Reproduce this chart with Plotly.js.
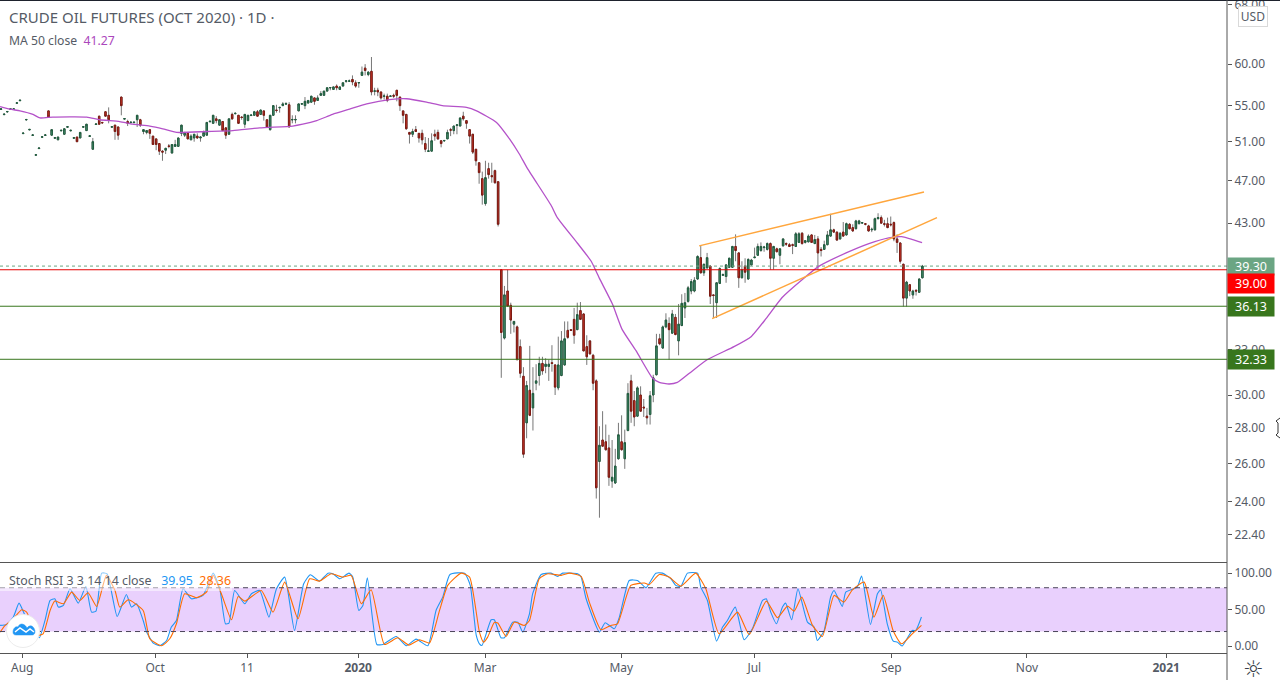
<!DOCTYPE html>
<html>
<head>
<meta charset="utf-8">
<script src="https://cdn.plot.ly/plotly-3.0.1.min.js"></script>
<style>
  html, body { margin: 0; padding: 0; background: #fff; overflow: hidden; }
  #chart { width: 1280px; height: 680px; }
</style>
</head>
<body>
<div id="chart"></div>
<script>
// daily bars, one row = 10 bars
var opens = [
  54.57,53.97,54.27,54.57,54.57,55.27,55.57,51.87,53.37,52.27,
  51.67,49.57,50.27,51.47,51.67,54.4,51.7,51.37,51.2,52.17,
  51.8,52.57,52.17,51.37,51.5,51.4,52.57,52.2,51.57,50.2,
  52.87,53.8,53.1,54.3,53.9,52.57,52.8,52.6,56.0,53.47,
  53.2,53.07,53.07,53.4,53.4,52.1,52.0,52.3,51.6,51.3,
  50.8,50.0,50.1,50.55,49.8,50.5,50.5,51.9,51.7,51.9,
  51.2,51.4,51.6,51.4,51.6,51.7,53.17,53.0,53.5,52.8,
  53.2,52.5,51.8,54.0,54.07,53.9,53.7,52.9,53.3,53.87,
  53.9,54.3,54.0,54.4,53.4,52.3,53.9,54.5,54.75,55.0,
  55.17,55.1,53.37,53.37,54.4,55.17,55.0,55.3,55.4,55.9,
  55.6,56.2,56.2,56.7,57.07,56.9,57.3,56.9,57.3,57.87,
  57.87,58.1,57.7,57.67,58.6,59.5,58.7,59.1,56.67,56.8,
  56.6,56.07,56.1,56.07,56.2,56.8,56.0,54.4,54.0,52.0,
  51.8,52.3,51.9,51.9,50.8,49.97,50.0,51.8,52.0,51.1,
  51.07,51.3,52.3,52.2,52.77,52.7,53.8,53.3,52.3,51.8,
  50.2,48.8,47.2,44.8,48.2,47.5,48.0,46.9,39.0,33.8,
  37.3,36.2,34.8,34.6,33.2,31.2,28.3,30.3,29.2,30.75,
  31.25,32.05,31.85,31.85,32.1,31.95,30.45,31.25,31.95,34.35,
  34.4,35.15,34.4,35.8,35.55,33.2,33.6,32.6,30.9,26.1,
  27.3,27.2,26.85,25.05,24.95,26.25,27.2,26.25,27.85,30.9,
  29.65,28.7,30.0,29.25,28.7,28.8,30.0,31.3,33.75,33.1,
  34.6,34.85,34.15,35.3,33.6,34.7,36.0,36.5,37.3,37.3,
  38.25,40.0,38.75,39.15,39.3,37.0,36.4,37.9,38.55,38.45,
  39.2,39.2,40.95,40.4,38.35,39.3,38.25,39.4,40.0,40.2,
  40.6,40.85,40.7,41.2,39.95,40.75,40.2,41.0,41.2,41.1,
  41.1,40.95,41.3,42.1,41.3,41.35,41.95,41.2,41.6,40.7,
  40.7,41.1,41.85,42.4,42.2,41.6,42.2,41.95,42.9,42.6,
  42.5,42.95,43.0,42.95,42.75,42.4,42.4,43.4,43.5,42.95,
  42.95,42.9,43.05,41.6,41.25,39.45,36.75,37.8,37.0,37.35,37.2,38.35
];
var highs = [
  54.63,54.03,54.33,54.63,54.63,55.33,55.63,51.93,53.43,52.33,
  51.73,49.63,50.33,51.53,51.73,54.4,52.3,51.43,51.5,52.23,
  52.4,52.63,52.23,51.43,51.5,52.0,52.63,52.9,51.63,51.4,
  52.93,53.8,53.1,54.3,54.8,52.63,52.8,52.6,56.0,53.53,
  53.4,53.13,53.13,53.9,53.5,52.3,52.2,52.3,51.6,51.3,
  50.8,50.1,50.3,50.75,50.7,51.2,51.4,52.8,52.0,51.9,
  51.8,51.8,51.9,51.5,52.2,53.1,53.23,53.9,53.8,53.4,
  53.2,52.5,53.5,54.2,54.13,53.9,53.8,54.0,53.9,53.93,
  54.4,54.5,54.5,54.4,53.4,53.9,55.0,55.1,54.8,55.4,
  55.4,55.4,53.9,53.9,55.2,55.23,56.0,55.6,56.1,55.9,
  56.2,56.7,56.7,57.1,57.13,57.2,57.5,57.2,57.7,57.93,
  58.1,58.6,58.0,57.73,59.7,60.0,59.1,60.9,57.1,57.1,
  56.6,56.4,56.4,56.13,56.4,56.8,56.0,54.4,54.0,52.0,
  52.4,52.7,51.9,52.3,51.5,51.4,51.9,52.3,52.3,51.1,
  51.13,52.3,52.5,52.7,52.83,53.6,54.3,53.3,52.3,51.8,
  50.2,48.8,47.9,49.0,48.8,48.8,48.1,46.9,39.05,37.7,
  39.0,36.4,35.0,34.7,33.7,31.8,30.9,33.25,31.8,32.0,
  32.5,32.5,32.4,32.3,33.3,32.0,33.9,34.3,35.0,35.0,
  34.4,36.0,36.4,36.45,35.6,34.0,33.65,32.7,31.0,28.1,
  29.0,28.2,27.6,27.3,26.8,28.3,28.75,27.9,30.75,31.3,
  30.25,30.55,30.55,29.75,29.2,30.25,31.3,34.1,34.1,34.7,
  35.6,35.3,35.85,35.55,36.3,37.05,37.15,37.7,38.25,38.4,
  40.2,41.05,39.5,40.4,39.35,37.05,38.0,39.2,38.7,39.45,
  40.0,41.0,42.0,40.45,39.7,39.95,39.95,39.9,40.85,41.2,
  41.3,41.0,41.3,41.3,41.0,40.85,40.8,41.65,41.3,41.25,
  41.2,42.2,42.2,42.2,41.5,42.0,42.0,41.95,41.85,40.9,
  41.45,42.3,43.85,42.5,42.25,42.2,43.1,43.05,43.0,42.9,
  43.3,43.3,43.1,43.0,42.85,42.6,43.5,43.9,43.7,43.3,
  43.5,43.6,43.15,42.0,41.3,39.5,38.1,37.85,37.4,37.45,38.3,39.4
];
var lows = [
  54.57,53.97,54.27,54.57,54.57,55.27,55.57,51.87,53.37,52.27,
  51.67,49.57,50.27,51.47,51.67,53.7,51.7,51.37,51.2,52.17,
  51.8,52.57,52.17,51.37,51.0,51.4,52.57,52.2,51.57,50.2,
  52.87,52.9,53.05,53.8,53.0,52.57,51.2,51.2,53.9,53.47,
  52.7,53.07,53.07,52.6,52.6,51.8,51.8,51.3,50.7,50.1,
  49.6,49.0,49.7,50.3,49.8,50.5,50.5,51.6,51.5,51.3,
  51.2,51.0,51.3,51.0,51.6,51.7,53.17,53.0,53.0,52.8,
  52.2,51.3,51.8,53.4,54.07,53.0,53.4,52.5,53.3,53.87,
  53.9,53.8,54.0,53.3,52.6,52.2,53.9,54.2,54.2,55.0,
  55.17,52.6,53.0,53.0,54.4,55.17,54.6,55.3,55.4,55.1,
  55.6,56.2,56.2,56.7,56.8,56.9,56.8,56.9,57.3,57.7,
  57.87,57.4,57.1,57.1,58.6,58.6,58.5,56.2,56.2,56.1,
  55.7,55.7,55.4,56.07,55.9,55.5,54.4,53.0,52.3,50.8,
  51.5,52.1,50.9,50.7,49.9,49.97,50.0,51.1,51.2,50.4,
  51.07,51.3,51.6,51.8,51.8,52.7,53.3,52.4,50.8,49.7,
  48.5,46.7,44.7,44.6,47.2,46.8,46.7,42.7,31.1,33.7,
  36.1,34.1,34.2,32.3,31.1,26.3,27.4,28.7,27.85,30.3,
  30.6,31.3,31.4,30.9,31.5,30.0,30.3,31.2,31.9,33.75,
  34.3,33.4,34.4,35.1,32.9,31.95,32.65,30.3,24.15,23.2,
  26.9,26.7,24.8,24.7,24.9,26.2,26.7,25.7,27.8,28.3,
  28.1,28.65,28.95,28.65,28.2,28.2,29.55,31.25,33.3,33.05,
  34.5,32.3,34.1,34.0,32.6,34.65,35.25,36.4,37.05,37.2,
  38.2,38.7,38.5,39.1,36.3,35.25,35.25,37.85,38.5,37.95,
  39.15,39.15,39.7,37.55,38.3,37.95,38.2,39.35,39.95,40.15,
  40.5,40.5,40.6,39.0,39.0,40.45,39.45,40.95,41.0,40.9,
  40.3,40.9,41.25,41.1,41.2,41.3,41.25,41.15,39.0,40.1,
  40.65,41.05,41.8,42.15,41.45,41.55,41.8,41.9,42.45,42.25,
  42.45,42.9,42.95,42.8,42.25,42.2,42.35,43.35,42.95,42.7,
  42.55,42.7,41.4,40.4,39.5,36.1,36.1,36.9,36.7,36.95,37.15,38.3
];
var closes = [
  54.63,54.03,54.33,54.63,54.63,55.33,55.63,51.93,53.43,52.33,
  51.73,49.63,50.33,51.53,51.73,53.7,52.3,51.43,51.5,52.23,
  52.4,52.63,52.23,51.43,51.0,52.0,52.63,52.9,51.63,51.0,
  52.93,52.9,53.05,53.8,53.4,52.63,52.1,51.7,55.0,53.53,
  53.0,53.13,53.13,53.9,52.8,52.3,52.2,51.9,50.7,50.7,
  50.0,49.9,50.3,50.5,50.7,50.7,51.4,52.8,52.0,51.3,
  51.6,51.8,51.4,51.5,52.0,53.1,53.23,53.9,53.3,53.4,
  52.2,51.7,53.5,53.5,54.13,53.0,53.65,54.0,53.9,53.93,
  54.3,53.8,54.5,53.9,52.6,53.9,55.0,54.45,54.8,55.2,
  55.23,52.6,53.43,53.43,55.2,55.23,55.5,55.6,56.1,55.5,
  55.9,56.4,56.7,57.1,57.13,57.2,57.1,57.2,57.7,57.93,
  57.93,57.8,57.3,57.73,59.0,59.2,59.0,56.6,56.73,56.6,
  55.9,56.13,55.6,56.13,56.1,56.2,55.0,53.9,52.4,51.8,
  52.1,52.1,51.4,51.2,50.2,50.03,51.1,51.6,51.3,50.8,
  51.13,52.0,52.25,52.7,52.83,53.6,53.5,53.0,51.6,49.9,
  49.0,47.8,45.6,47.3,47.6,47.4,46.8,42.9,34.2,37.0,
  36.15,35.1,35.0,32.3,31.4,26.5,30.6,28.75,30.1,30.9,
  32.05,31.55,32.0,32.0,32.05,30.5,31.95,33.6,33.75,33.85,
  34.35,34.0,35.5,35.15,32.9,32.5,32.7,30.75,24.7,27.0,
  26.95,26.75,25.25,25.25,25.85,27.6,26.75,27.15,30.1,29.0,
  28.65,30.45,29.0,29.2,28.6,29.95,31.1,33.25,33.4,34.6,
  35.1,34.4,35.55,34.05,34.8,36.35,36.4,37.55,38.05,38.15,
  40.1,38.75,39.45,40.0,36.9,36.95,37.95,39.1,38.6,39.4,
  39.95,40.95,40.6,38.35,39.0,38.8,39.85,39.8,40.05,40.95,
  40.95,40.9,41.2,39.95,40.95,40.5,40.75,41.6,41.15,40.95,
  41.05,42.05,42.05,41.2,41.45,41.85,41.3,41.55,40.4,40.6,
  41.1,41.95,42.4,42.2,41.5,42.1,41.85,42.95,42.5,42.3,
  43.2,43.2,43.05,42.9,42.3,42.45,43.4,43.5,43.0,42.9,
  42.6,42.85,41.6,41.3,39.7,36.75,38.0,37.3,37.3,37.3,38.25,39.3
];

// MA 50, read at its bends
var maBars = [-0.3,2.8,6.0,10.1,12.3,16.4,27.1,31.2,37.5,41.6,47.0,51.1,55.5,65.0,73.2,81.7,92.1,95.3,99.7,104.7,110.1,115.5,122.7,128.1,134.4,139.4,147,150.2,156.5,160.6,163.7,166.2,173.8,175.7,182,186.4,189,193.1,196.2,200.6,205.7,207.9,211,213.6,217.4,223,231.5,236.9,241.6,246.7,253,258.4,266.9,274.1,280.4,284.5,290.9];
var maValues = [54.9,54.6,54.4,54.0,53.6,53.7,53.7,53.4,53.2,52.9,52.7,52.4,52.0,52.1,52.2,52.5,52.7,52.9,53.3,54.0,54.6,55.2,55.7,55.8,55.4,55.0,54.8,54.4,53.1,51.3,49.7,48.25,44.6,43.5,41.25,39.7,38.3,36.3,34.4,32.9,31.1,30.8,30.7,30.8,31.4,32.3,33.2,33.9,35.2,36.8,38.2,39.3,40.4,41.2,41.7,41.8,41.27];

// stochastic RSI, read at its turning points
var kBars = [-0.3,1.8,3.9,5.7,7.6,10.2,12.1,13.9,15.5,17.0,18.1,19.7,21.8,24.4,26.8,28.6,30.0,31.8,33.5,36.7,39.6,41.2,42.8,44.9,46.0,48.1,50.2,52.3,53.8,55.4,57.5,60.1,63.8,67.0,69.1,70.9,72.0,73.8,77.0,79.1,81.7,84.6,87.0,89.6,92.7,95.6,97.7,100.6,103.3,104.8,107.0,109.9,111.1,113.0,114.3,115.7,118.7,120.6,124.8,128.0,131.1,134.8,137.4,139.5,141.8,146.4,148.2,150.1,151.1,151.9,154.8,155.8,157.9,159.0,161.6,163.2,164.8,166.9,167.9,170.6,173.7,175.8,177.4,182.1,183.2,184.8,189.0,190.8,193.7,195.3,198.4,201.0,203.7,206.8,208.9,211.6,213.1,214.7,216.8,220.0,221.0,223.1,226.0,227.9,229.4,231.9,234.7,237.3,240.5,241.7,243.1,244.9,246.8,247.8,249.7,251.7,254.7,256.8,257.8,259.9,262.0,263.1,265.7,266.8,270.4,271.8,274.6,276.8,277.8,279.9,281.8,283.1,284.6,287.8,288.9,290.7];
var kValues = [28.4,29.7,39.8,58.9,42.1,23.8,11.5,35.2,62.6,64.9,53.5,55.8,78.6,58.9,81.8,46.6,48.0,100,99.1,40.7,70.8,53.5,58.0,35.2,19.2,4.2,0.5,7.8,26.1,35.2,78.6,64.9,69.5,100,78.6,30.6,31.6,76.3,58,71.7,76.3,39.8,78.6,94.6,21.5,85.4,97.8,89.1,100,99.1,92.3,100,94.6,48.9,55.8,93.7,2.3,2.3,13.3,0.5,9.6,0.5,48.9,67.2,98.2,100,83.2,14.7,3.2,1.0,36.1,36.1,11.5,11.5,32.9,32.9,19.2,44.3,71.7,98.2,100,95.5,100,99.1,94.6,64.9,19.2,32.0,23.8,39.8,90,90,80,100,100,92.3,83.2,81.8,100,100,80.9,62.6,6.9,26.1,35.2,53.5,8.7,23.8,62.6,64.9,46.6,30.6,53.5,58.9,36.1,78.6,32.9,26.1,7.8,20.6,67.2,76.3,54.4,74.0,80.9,95.9,29.7,71.7,77.2,30.6,6.9,5.5,0.1,21.5,21.5,39.95];
var dBars = [-0.3,1.3,3.9,6.5,8.1,11.2,13.3,15.5,17.0,19.7,22.3,24.9,27.5,30.2,33.3,36.0,37.5,40.2,44.9,47.0,50.7,53.3,55.4,58.0,61.7,64.9,67,69.6,72.8,74.9,77,82.2,85.9,89.6,93.8,97.5,100.6,104.3,108,110.6,113.8,116.9,121.1,125.3,128.8,132.2,135.3,138.5,141.1,145.3,148,151.1,152.4,153.7,155.8,156.9,159.5,162.1,165.3,166.9,170,172.7,176.9,179.5,183.2,185.8,189.5,192.6,194.7,198.9,203.2,204.7,207.9,211,214.7,219.4,222.6,226.8,232.6,236.3,241.7,245.2,248.4,250.5,252.9,256.3,259.4,263.1,266.2,268.9,272.6,275.7,278.6,281.8,284.4,287.8,290.7];
var dValues = [19.2,28.4,37.5,49.8,46.6,14.7,16.9,48.9,61.7,58,74,62.6,73.1,54.4,96.9,76.3,53.5,63.5,48.9,10.1,0.5,10.1,30.6,71.7,66.3,74,96.9,71.7,36.1,68.1,61.7,76.3,46.6,87.7,37.5,92.3,89.1,99.1,94.6,96.9,58,77.2,2.3,11.5,1.4,8.7,4.2,48.9,83.2,100,94.6,19.2,5.5,12.4,32.5,31.6,13.3,32.9,28.4,35.2,92.3,99.1,96.9,100,95.5,60.3,22.4,28.4,30.6,83.2,86.4,84.1,98.2,94.6,82.2,100,78.6,16.9,46.6,16,61.7,38.9,54.8,48,67.2,28.4,13.3,69.5,60.3,77.2,87.7,39.8,69.5,20.6,3.2,16.9,28.36];

// the two drawn channel lines
var upperBars = [220.5,291.5];
var upperValues = [41.0,45.9];
var lowerBars = [224.6,295.6];
var lowerValues = [35.2,43.5];

var priceTicks = [22.4,24,26,28,30,33,43,47,51,55,60,68];
var priceTickText = ['22.40','24.00','26.00','28.00','30.00','33.00','43.00','47.00','51.00','55.00','60.00','68.00'];
var stochTicks = [0,50,100];
var stochTickText = ['0.00','50.00','100.00'];
var timeTicks = [6.7,48.7,77.7,112.8,152.9,195.9,237.9,281.2,324,368];
var timeTickText = ['Aug','Oct','11','<b>2020</b>','Mar','May','Jul','Sep','Nov','<b>2021</b>'];

var lastPrice = 39.30;
var redLevel = 39.00;
var greenLevels = [36.13,32.33];
var stochUpper = 80;
var stochLower = 20;

var xMin = -0.316;
var xMax = 387.2;
var FONT = '"Noto Sans", sans-serif';
var GREY = '#555b66';

// page pixels to paper fractions, for the furniture that is not data
function fx(x) { return x / 1227; }
function fy(y) { return (653 - y) / 652; }
function pathOf(parts) {
    return parts.map(function (p) {
        return typeof p === 'string' ? p : fx(p[0]) + ',' + fy(p[1]);
    }).join(' ');
}

var bars = opens.map(function (o, i) { return i; });
var bodyHigh = opens.map(function (o, i) { return Math.max(o, closes[i]); });
var bodyLow = opens.map(function (o, i) { return Math.min(o, closes[i]); });

function level(y, color, dash) {
    return {
        x: [xMin, xMax], y: [y, y], type: 'scatter', mode: 'lines',
        line: { color: color, width: 1, dash: dash || 'solid' },
        hoverinfo: 'skip', showlegend: false
    };
}
function line(x, y, color, width, axis, shape) {
    return {
        x: x, y: y, yaxis: axis || 'y', type: 'scatter', mode: 'lines',
        line: { color: color, width: width, shape: shape || 'linear', smoothing: 0.5 },
        hoverinfo: 'skip', showlegend: false
    };
}

var data = [
    level(lastPrice, '#6ba583', 'dot'),
    // grey wicks first, then the bodies on top without any wick of their own
    {
        type: 'candlestick', x: bars, open: opens, high: highs, low: lows, close: closes,
        whiskerwidth: 0, showlegend: false, hoverinfo: 'skip',
        increasing: { line: { color: '#777777', width: 1 }, fillcolor: '#777777' },
        decreasing: { line: { color: '#777777', width: 1 }, fillcolor: '#777777' }
    },
    {
        type: 'candlestick', x: bars, open: opens, high: bodyHigh, low: bodyLow, close: closes,
        whiskerwidth: 0, showlegend: false, hoverinfo: 'skip',
        increasing: { line: { color: '#1f5c3e', width: 1 }, fillcolor: '#4f9c7a' },
        decreasing: { line: { color: '#7d1a12', width: 1 }, fillcolor: '#dd3a2c' }
    },
    line(maBars, maValues, '#b452c9', 1.3, 'y', 'spline'),
    line(upperBars, upperValues, '#ffa63d', 1.5),
    line(lowerBars, lowerValues, '#ffa63d', 1.5),
    level(redLevel, '#e60000'),
    level(greenLevels[0], '#38761d'),
    level(greenLevels[1], '#38761d'),
    line(kBars, kValues, '#2196f3', 1.1, 'y2', 'spline'),
    line(dBars, dValues, '#ff6d00', 1.1, 'y2', 'spline')
];

function priceTag(text, price, color, shift, h) {
    return {
        xref: 'paper', yref: 'y', x: 1, y: Math.log10(price), xanchor: 'left', yanchor: 'middle',
        yshift: shift || 0, text: text, showarrow: false, width: 46, height: h || 19, align: 'center',
        bgcolor: color, borderpad: 0, font: { family: FONT, size: 12.5, color: '#ffffff' }
    };
}
function label(text, x, y, size, extra) {
    var a = {
        xref: 'paper', yref: 'paper', x: fx(x), y: fy(y), xanchor: 'left', yanchor: 'middle',
        text: text, showarrow: false, borderpad: 0, font: { family: FONT, size: size, color: GREY }
    };
    return Object.assign(a, extra || {});
}

var annotations = [
    label('CRUDE OIL FUTURES (OCT 2020) · 1D ·', 8, 17, 15),
    label('MA 50 close&nbsp;&nbsp;<span style="color:#ab47bc">41.27</span>', 8, 41, 12.2),
    label('Stoch RSI 3 3 14 14 close&nbsp;&nbsp;&nbsp;<span style="color:#2196f3">39.95</span>&nbsp;&nbsp;<span style="color:#ff6d00">28.36</span>', 8, 580, 12.4),
    priceTag('39.30', lastPrice, '#6ba583', 0, 17),
    priceTag('39.00', redLevel, '#ff0000', -14),
    priceTag('36.13', greenLevels[0], '#38761d'),
    priceTag('32.33', greenLevels[1], '#38761d'),
    label('USD', 1253, 17, 12, { xanchor: 'center', width: 28, height: 19, bgcolor: '#ffffff', bordercolor: '#d9d9d9', borderwidth: 1, align: 'center' }),
    label('☼', 1253, 668.5, 23, { xanchor: 'center', font: { family: 'DejaVu Sans', size: 23, color: '#3a3f4a' } })
];

var shapes = [
    { type: 'rect', xref: 'paper', yref: 'y2', x0: 0, x1: 1, y0: stochLower, y1: stochUpper, fillcolor: '#e9d0fd', line: { width: 0 }, layer: 'below' },
    { type: 'line', xref: 'paper', yref: 'y2', x0: 0, x1: 1, y0: stochUpper, y1: stochUpper, line: { color: '#4a4458', width: 1, dash: '5px,4px' } },
    { type: 'line', xref: 'paper', yref: 'y2', x0: 0, x1: 1, y0: stochLower, y1: stochLower, line: { color: '#4a4458', width: 1, dash: '5px,4px' } },
    // veil behind the stochastic legend
    { type: 'rect', xref: 'paper', yref: 'paper', x0: 0, x1: fx(232), y0: fy(571), y1: fy(591), fillcolor: 'rgba(255,255,255,0.5)', line: { width: 0 } },
    // pane frame
    { type: 'line', xref: 'paper', yref: 'paper', x0: 0, x1: fx(1280), y0: fy(0.5), y1: fy(0.5), line: { color: '#1e222d', width: 1 } },
    { type: 'line', xref: 'paper', yref: 'paper', x0: 0, x1: 1, y0: fy(562.5), y1: fy(562.5), line: { color: '#555555', width: 1 } },
    { type: 'line', xref: 'paper', yref: 'paper', x0: 0, x1: 1, y0: fy(653.5), y1: fy(653.5), line: { color: '#555555', width: 1 } },
    { type: 'line', xref: 'paper', yref: 'paper', x0: 1, x1: 1, y0: fy(0), y1: fy(680), line: { color: '#555555', width: 1 } },
    // logo badge
    { type: 'circle', xref: 'paper', yref: 'paper', x0: fx(6.5), x1: fx(39.5), y0: fy(614.5), y1: fy(647.5), fillcolor: '#ffffff', line: { color: '#ececec', width: 1 } },
    { type: 'path', xref: 'paper', yref: 'paper', fillcolor: '#2196f3', line: { color: '#2196f3', width: 0.5 },
      path: pathOf(['M', [13, 632], 'C', [13, 628], [16, 626], [18, 627], 'C', [20, 622], [25, 624], [27, 628], 'C', [30, 624], [34, 626], [35, 631], 'C', [35, 635], [33, 635], [31, 635], 'L', [16, 635], 'C', [14, 635], [13, 634], [13, 632], 'Z']) },
    { type: 'path', xref: 'paper', yref: 'paper', line: { color: '#ffffff', width: 1.5 },
      path: pathOf(['M', [15, 632], 'L', [20, 628], 'L', [26, 632], 'L', [30, 629], 'L', [34, 632]]) },
    // mouse cursor caught at the window edge
    { type: 'path', xref: 'paper', yref: 'paper', line: { color: '#333333', width: 1 },
      path: pathOf(['M', [1280, 418], 'L', [1276, 421], 'L', [1278, 423], 'L', [1278, 433], 'L', [1276, 435], 'L', [1280, 438]]) }
];

var layout = {
    width: 1280,
    height: 680,
    margin: { l: 0, r: 53, t: 1, b: 27 },
    paper_bgcolor: '#ffffff',
    plot_bgcolor: '#ffffff',
    showlegend: false,
    boxgap: 0.35,
    hovermode: false,
    font: { family: FONT, size: 12, color: GREY },
    xaxis: {
        anchor: 'y2', range: [xMin, xMax], rangeslider: { visible: false },
        showgrid: false, zeroline: false, showline: false,
        tickmode: 'array', tickvals: timeTicks, ticktext: timeTickText,
        ticks: 'outside', ticklen: 4, tickcolor: '#555555', tickfont: { family: FONT, size: 12, color: GREY }
    },
    yaxis: {
        domain: [91 / 652, 1], type: 'log', side: 'right', anchor: 'x',
        range: [Math.log10(21.144), Math.log10(68.48)],
        showgrid: false, zeroline: false, showline: false, ticklabeloverflow: 'allow',
        tickmode: 'array', tickvals: priceTicks, ticktext: priceTickText,
        ticks: 'outside', ticklen: 4, tickcolor: '#555555', tickfont: { family: FONT, size: 12, color: GREY }
    },
    yaxis2: {
        domain: [0, 90 / 652], side: 'right', anchor: 'x', range: [-9.4, 113.9],
        showgrid: false, zeroline: false, showline: false,
        tickmode: 'array', tickvals: stochTicks, ticktext: stochTickText,
        ticks: 'outside', ticklen: 4, tickcolor: '#555555', tickfont: { family: FONT, size: 12, color: GREY }
    },
    annotations: annotations,
    shapes: shapes
};

Plotly.newPlot('chart', data, layout, { displayModeBar: false, staticPlot: true });
</script>
</body>
</html>
